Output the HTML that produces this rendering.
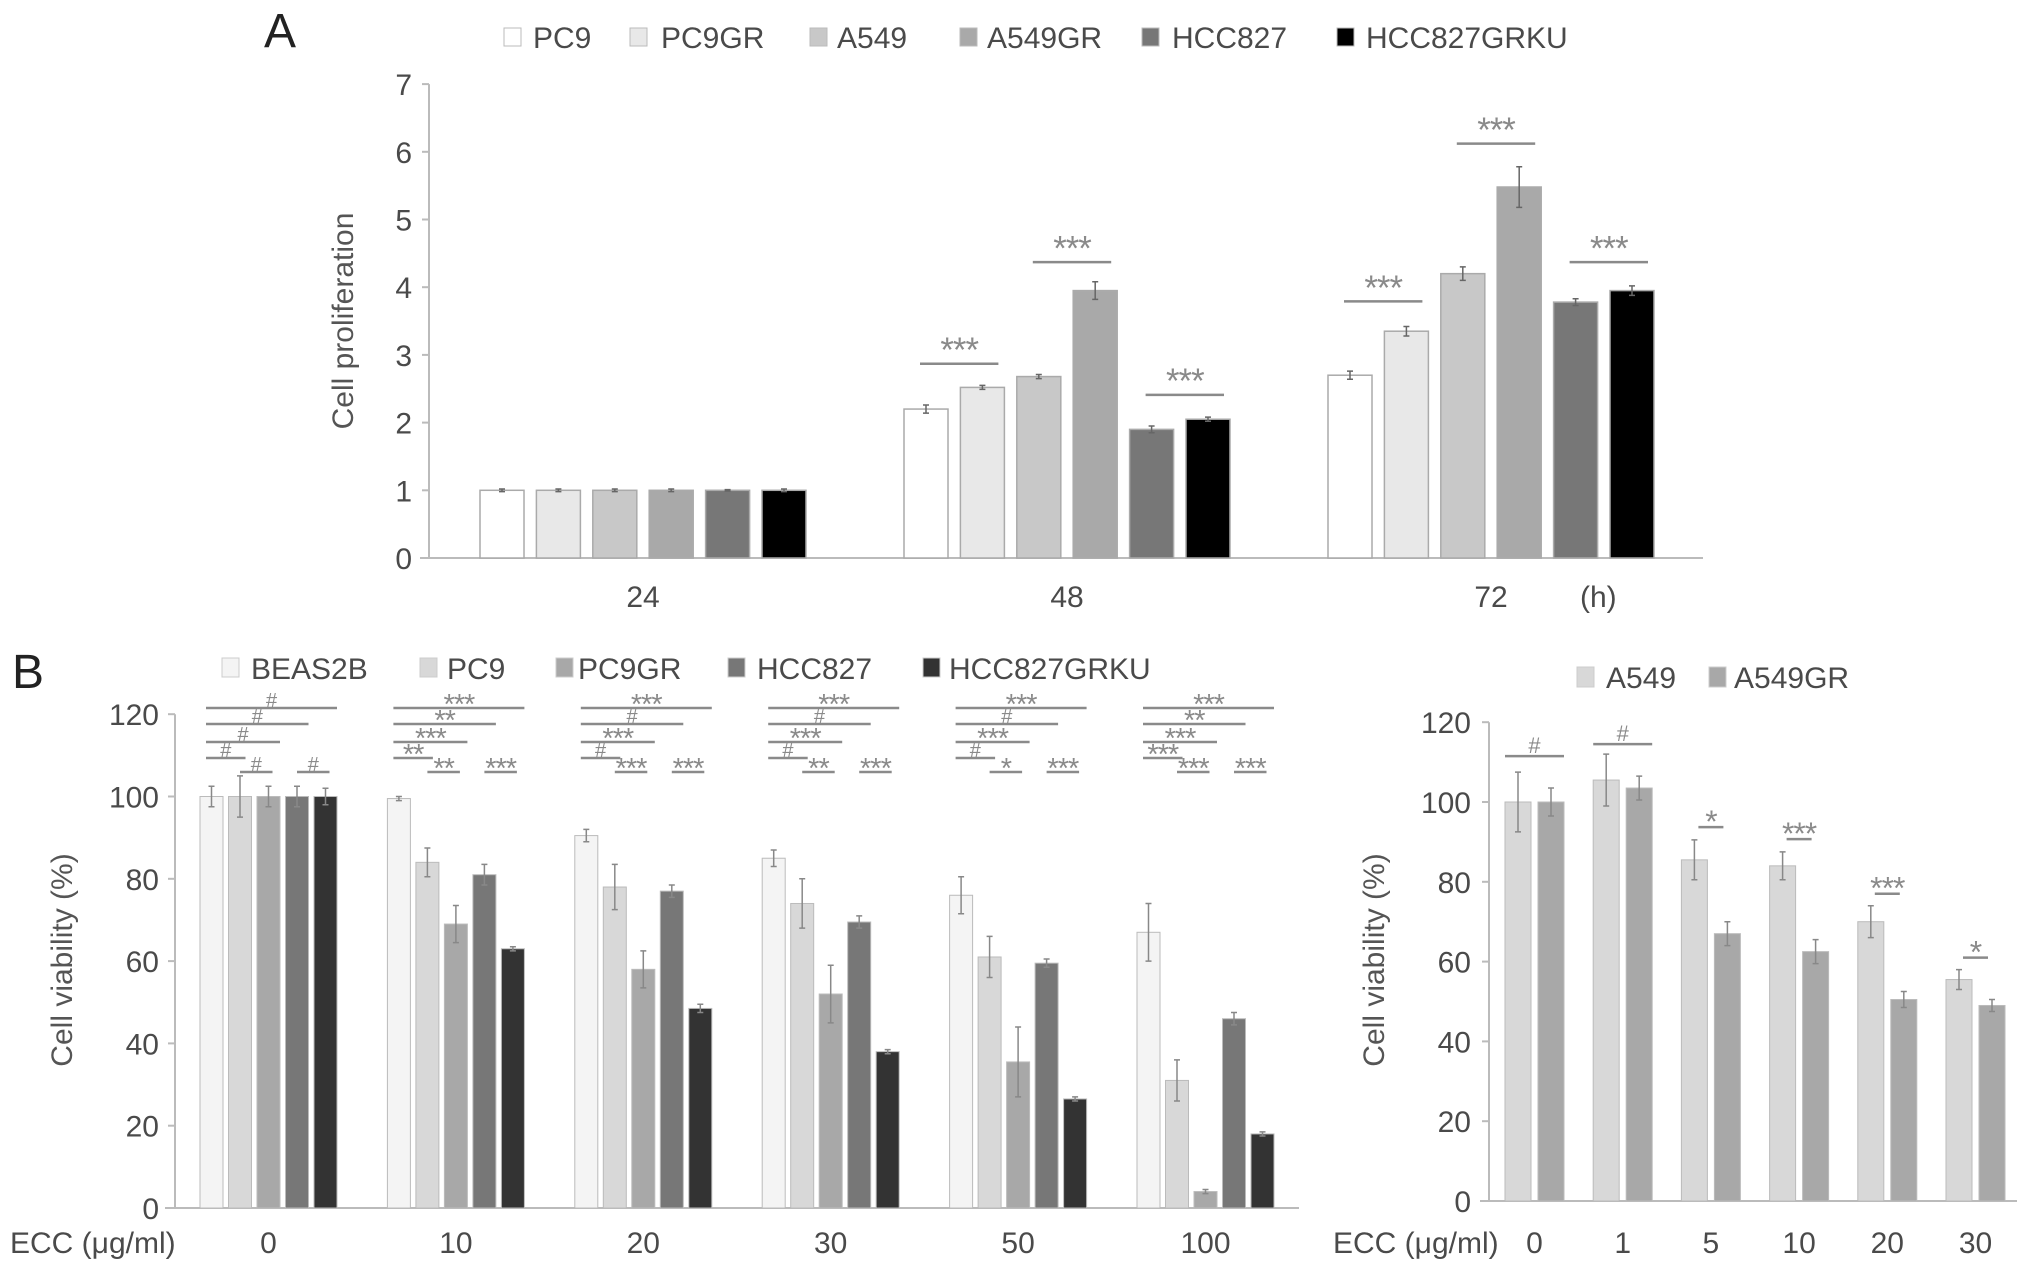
<!DOCTYPE html>
<html><head><meta charset="utf-8"><style>
html,body{margin:0;padding:0;background:#fff;}
svg{display:block;font-family:"Liberation Sans",sans-serif;}
</style></head><body>
<svg id="c" width="2032" height="1272" viewBox="0 0 2032 1272"></svg>
<script>
// ---------- Panel A data ----------
const aCats=["24","48","72"];
const aSeries=["PC9","PC9GR","A549","A549GR","HCC827","HCC827GRKU"];
const aVals=[[1,2.2,2.7],[1,2.52,3.35],[1,2.68,4.2],[1,3.95,5.48],[1,1.9,3.78],[1,2.05,3.95]];
const aErr=[[0.02,0.06,0.06],[0.02,0.03,0.07],[0.02,0.03,0.1],[0.02,0.13,0.3],[0.01,0.05,0.05],[0.02,0.03,0.07]];
const aTicks=[0,1,2,3,4,5,6,7];
const aSig=[[1,0,1,2.87,"***"],[1,2,3,4.37,"***"],[1,4,5,2.41,"***"],[2,0,1,3.79,"***"],[2,2,3,6.12,"***"],[2,4,5,4.37,"***"]];
// ---------- Panel B left data ----------
const bCats=["0","10","20","30","50","100"];
const bSeries=["BEAS2B","PC9","PC9GR","HCC827","HCC827GRKU"];
const bVals=[[100,99.5,90.5,85,76,67],[100,84,78,74,61,31],[100,69,58,52,35.5,4],[100,81,77,69.5,59.5,46],[100,63,48.5,38,26.5,18]];
const bErr=[[2.5,0.5,1.5,2,4.5,7],[5,3.5,5.5,6,5,5],[2.5,4.5,4.5,7,8.5,0.5],[2.5,2.5,1.5,1.5,1,1.5],[2,0.5,1,0.5,0.5,0.5]];
const bTicks=[0,20,40,60,80,100,120];
const bSigLabels=[["#","#","#","#","#","#"],["***","**","***","**","**","***"],["***","#","***","#","***","***"],["***","#","***","#","**","***"],["***","#","***","#","*","***"],["***","**","***","***","***","***"]];
// ---------- Panel B right data ----------
const cCats=["0","1","5","10","20","30"];
const cSeries=["A549","A549GR"];
const cVals=[[100,105.5,85.5,84,70,55.5],[100,103.5,67,62.5,50.5,49]];
const cErr=[[7.5,6.5,5,3.5,4,2.5],[3.5,3,3,3,2,1.5]];
const cTicks=[0,20,40,60,80,100,120];
const cSig=[[0,"#",111.5,1],[1,"#",114.5,1],[2,"*",93.7,0],[3,"***",90.7,0],[4,"***",77,0],[5,"*",61,0]];

const svg=document.getElementById('c');
const NS="http://www.w3.org/2000/svg";
function mk(tag,at,txt){const e=document.createElementNS(NS,tag);for(const k in at)e.setAttribute(k,at[k]);if(txt!==undefined)e.textContent=txt;svg.appendChild(e);return e;}
const AX="#bbb",TX="#4a4a4a",SG="#8a8a8a";
// star labels: asterisks drawn larger and lowered; '#' normal
function sigText(x,y,l,base){const star=l.indexOf('*')>=0;return mk('text',{x:x,y:star?y+base*0.35:y,'font-size':star?base*1.45:base,fill:SG,'text-anchor':'middle','letter-spacing':star?-1:0},l);}

// ===== Panel A =====
const aCol=["#ffffff","#e8e8e8","#c8c8c8","#a9a9a9","#777777","#000000"];
const aY=v=>558-v*67.7, aX=(g,i)=>480+g*424+i*56.4, aW=44;
let e=mk('text',{x:264,y:47,'font-size':48,fill:"#222"},"A");

const aLegX=[[504,533],[630,661],[810,837],[960,987],[1142,1172],[1337,1366]];
aSeries.forEach((s,i)=>{
 e=mk('rect',{x:aLegX[i][0],y:28,width:17,height:18,fill:aCol[i],stroke:"#bbb"});
 
 e=mk('text',{x:aLegX[i][1],y:48,'font-size':30,fill:TX},s);
 
});
e=mk('line',{x1:429,y1:aY(0),x2:429,y2:aY(7),stroke:AX,'stroke-width':2});

e=mk('line',{x1:420,y1:aY(0),x2:1703,y2:aY(0),stroke:AX,'stroke-width':2});

aTicks.forEach(t=>{
 e=mk('line',{x1:422,y1:aY(t),x2:429,y2:aY(t),stroke:AX,'stroke-width':2});
 
 e=mk('text',{x:412,y:aY(t)+11,'font-size':30,fill:TX,'text-anchor':'end'},t);
 
});
e=mk('text',{x:353,y:321,'font-size':30,fill:"#555",'text-anchor':'middle',transform:'rotate(-90 353 321)'},"Cell proliferation");

aCats.forEach((c,g)=>{
 e=mk('text',{x:aX(g,2.5)+aW/2,y:607,'font-size':30,fill:TX,'text-anchor':'middle'},c);
 
 aSeries.forEach((s,i)=>{
  const v=aVals[i][g],x=aX(g,i);
  e=mk('rect',{x:x,y:aY(v),width:aW,height:aY(0)-aY(v),fill:aCol[i],stroke:"#aaa",'stroke-width':1.5});
  
  const er=aErr[i][g],cx=x+aW/2;
  e=mk('path',{d:`M${cx},${aY(v+er)}V${aY(v-er)}M${cx-3},${aY(v+er)}H${cx+3}M${cx-3},${aY(v-er)}H${cx+3}`,stroke:"#666",'stroke-width':1.5,fill:'none'});
  
 });
});
e=mk('text',{x:1580,y:607,'font-size':30,fill:TX},"(h)");

aSig.forEach(([g,f,t,v,l])=>{
 const x1=aX(g,f)+16,x2=aX(g,t)+aW-6;
 e=mk('line',{x1:x1,y1:aY(v),x2:x2,y2:aY(v),stroke:SG,'stroke-width':2.5});
 
 e=sigText((x1+x2)/2,aY(v)-10,l,24);
 
});

// ===== Panel B left =====
const bCol=["#f4f4f4","#d8d8d8","#a8a8a8","#777777","#333333"];
const bY=v=>1208-v*4.115, bX=(g,i)=>200+g*187.4+i*28.5, bW=23;
e=mk('text',{x:12,y:688,'font-size':48,fill:"#222"},"B");

const bLegX=[[222,251],[420,447],[556,578],[728,757],[923,949]];
bSeries.forEach((s,i)=>{
 e=mk('rect',{x:bLegX[i][0],y:658,width:17,height:19,fill:bCol[i],stroke:"#ccc"});
 
 e=mk('text',{x:bLegX[i][1],y:679,'font-size':30,fill:TX},s);
 
});
e=mk('line',{x1:175,y1:bY(0),x2:175,y2:bY(120),stroke:AX,'stroke-width':2});

e=mk('line',{x1:165,y1:bY(0),x2:1299,y2:bY(0),stroke:AX,'stroke-width':2});

bTicks.forEach(t=>{
 e=mk('line',{x1:168,y1:bY(t),x2:175,y2:bY(t),stroke:AX,'stroke-width':2});
 
 e=mk('text',{x:159,y:bY(t)+11,'font-size':30,fill:TX,'text-anchor':'end'},t);
 
});
e=mk('text',{x:72,y:960,'font-size':30,fill:"#555",'text-anchor':'middle',transform:'rotate(-90 72 960)'},"Cell viability (%)");

e=mk('text',{x:10,y:1253,'font-size':30,fill:TX},"ECC (μg/ml)");

const bLineY=[708,724,742,758];
bCats.forEach((c,g)=>{
 e=mk('text',{x:bX(g,2)+bW/2,y:1253,'font-size':30,fill:TX,'text-anchor':'middle'},c);
 
 bSeries.forEach((s,i)=>{
  const v=bVals[i][g],x=bX(g,i);
  e=mk('rect',{x:x,y:bY(v),width:bW,height:bY(0)-bY(v),fill:bCol[i],stroke:"#bbb",'stroke-width':1});
  
  const er=bErr[i][g],cx=x+bW/2;
  e=mk('path',{d:`M${cx},${bY(v+er)}V${bY(v-er)}M${cx-3},${bY(v+er)}H${cx+3}M${cx-3},${bY(v-er)}H${cx+3}`,stroke:"#888",'stroke-width':1.5,fill:'none'});
  
 });
 const L=bSigLabels[g],x0=bX(g,0)+6;
 const ends=[bX(g,4)+bW,bX(g,3)+bW,bX(g,2)+bW,bX(g,1)+bW-6];
 for(let k=0;k<4;k++){
  e=mk('line',{x1:x0,y1:bLineY[k],x2:ends[k],y2:bLineY[k],stroke:SG,'stroke-width':2.5});
  
  e=sigText((x0+ends[k])/2,bLineY[k]-1,L[k],20);
  
 }
 [[1,2,4],[3,4,5]].forEach(([f,t,k])=>{
  const x1=bX(g,f)+bW/2,x2=bX(g,t)+bW/2+4;
  e=mk('line',{x1:x1,y1:772,x2:x2,y2:772,stroke:SG,'stroke-width':2.5});
  
  e=sigText((x1+x2)/2,771,L[k],20);
  
 });
});

// ===== Panel B right =====
const cCol=["#d8d8d8","#a8a8a8"];
const cY=v=>1201-v*3.99, cX=(g,i)=>1505+g*88.2+i*33, cW=26;
const cLegX=[[1577,1606],[1709,1734]];
cSeries.forEach((s,i)=>{
 e=mk('rect',{x:cLegX[i][0],y:667,width:17,height:20,fill:cCol[i],stroke:"#ccc"});
 
 e=mk('text',{x:cLegX[i][1],y:688,'font-size':30,fill:TX},s);
 
});
e=mk('line',{x1:1489,y1:cY(0),x2:1489,y2:cY(120),stroke:AX,'stroke-width':2});

e=mk('line',{x1:1480,y1:cY(0),x2:2017,y2:cY(0),stroke:AX,'stroke-width':2});

cTicks.forEach(t=>{
 e=mk('line',{x1:1482,y1:cY(t),x2:1489,y2:cY(t),stroke:AX,'stroke-width':2});
 
 e=mk('text',{x:1471,y:cY(t)+11,'font-size':30,fill:TX,'text-anchor':'end'},t);
 
});
e=mk('text',{x:1384,y:960,'font-size':30,fill:"#555",'text-anchor':'middle',transform:'rotate(-90 1384 960)'},"Cell viability (%)");

e=mk('text',{x:1333,y:1253,'font-size':30,fill:TX},"ECC (μg/ml)");

cCats.forEach((c,g)=>{
 e=mk('text',{x:cX(g,0)+(33+cW)/2,y:1253,'font-size':30,fill:TX,'text-anchor':'middle'},c);
 
 cSeries.forEach((s,i)=>{
  const v=cVals[i][g],x=cX(g,i);
  e=mk('rect',{x:x,y:cY(v),width:cW,height:cY(0)-cY(v),fill:cCol[i],stroke:"#bbb",'stroke-width':1});
  
  const er=cErr[i][g],cx=x+cW/2;
  e=mk('path',{d:`M${cx},${cY(v+er)}V${cY(v-er)}M${cx-3},${cY(v+er)}H${cx+3}M${cx-3},${cY(v-er)}H${cx+3}`,stroke:"#888",'stroke-width':1.5,fill:'none'});
  
 });
});
cSig.forEach(([g,l,v,wide])=>{
 const x1=wide?cX(g,0):cX(g,0)+cW/2+4, x2=wide?cX(g,1)+cW:cX(g,1)+cW/2-4;
 e=mk('line',{x1:x1,y1:cY(v),x2:x2,y2:cY(v),stroke:SG,'stroke-width':2.5});
 
 e=sigText((x1+x2)/2,cY(v)-3,l,22);
 
});
</script>
</body></html>
